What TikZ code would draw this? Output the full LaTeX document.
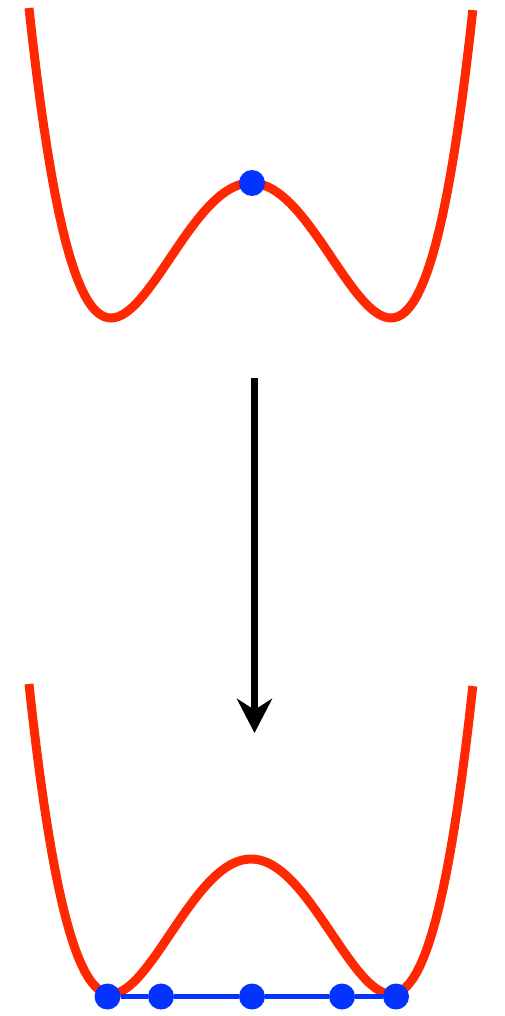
\documentclass[tikz,border=0pt]{standalone}
\usetikzlibrary{arrows.meta}
\definecolor{wellred}{RGB}{255,40,0}
\definecolor{dotblue}{RGB}{4,51,255}

\begin{document}
\begin{tikzpicture}[x=0.02cm,y=-0.02cm,
  well/.style={wellred,line width=5.1pt,line join=round},
  ball/.style={circle,fill=dotblue,inner sep=0pt,minimum size=0.52cm},
  link/.style={dotblue,line width=2.3pt},
  bigarrow/.style={line width=4.5pt,-{Stealth[length=19.5pt,width=20pt]}}]
  \useasboundingbox (0,0) rectangle (504,1016);
  \draw[well] plot[domain=-1.586:1.586,samples=120] ({251+140*\x},{318-135*(\x*\x-1)^2});
  \node[ball] (top) at (252,183) {};
  \coordinate (from) at (254.5,378);
  \coordinate (to) at (254.5,733);
  \draw[bigarrow] (from) -- (to);
  \draw[well] plot[domain=-1.586:1.586,samples=120] ({251+140*\x},{994-135*(\x*\x-1)^2});
  \node[ball] (b1) at (107.5,996.5) {};
  \node[ball] (b2) at (161,996.5) {};
  \node[ball] (b3) at (252,996.5) {};
  \node[ball] (b4) at (342,996.5) {};
  \node[ball] (b5) at (396,996.5) {};
  \draw[link] (b1) -- (b2) -- (b3) -- (b4) -- (b5);
\end{tikzpicture}
\end{document}
